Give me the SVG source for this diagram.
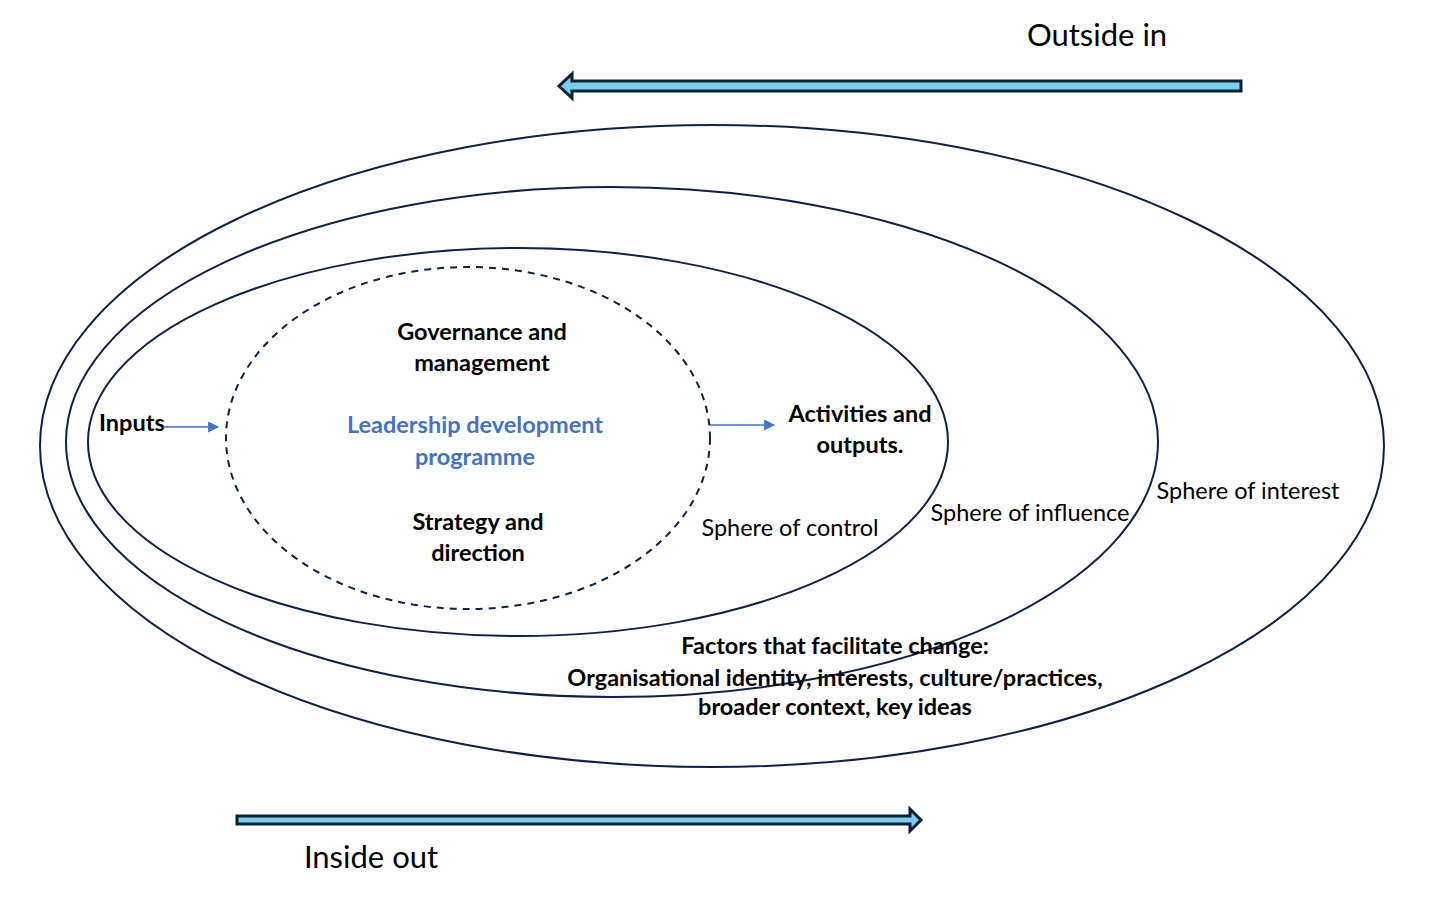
<svg xmlns="http://www.w3.org/2000/svg" width="1456" height="924" viewBox="0 0 1456 924">
<defs>
<style>
.ring{fill:none;stroke:#0E2147;stroke-width:2}
.dash{fill:none;stroke:#0E2147;stroke-width:2;stroke-dasharray:7 6}
.t{font-family:Lato,"Open Sans","Liberation Sans",sans-serif;fill:#000}
.b{font-weight:bold;font-size:23.5px}
.r{font-size:23.5px}
.big{font-size:31px}
.blue{fill:#4472C4}
.conn{stroke:#4472C4;stroke-width:1.5;fill:none}
.bigarrow{fill:#7DCDEE;stroke:#0B2233;stroke-width:3;stroke-linejoin:miter}
</style>
<marker id="ah" viewBox="0 0 10 10" refX="9" refY="5" markerWidth="12" markerHeight="11" markerUnits="userSpaceOnUse" orient="auto">
<path d="M0,0 L10,5 L0,10 z" fill="#4472C4"/>
</marker>
</defs>
<rect width="1456" height="924" fill="#fff"/>
<g id="sphere-interest"><ellipse class="ring" cx="712" cy="446" rx="672" ry="321"/></g>
<g id="sphere-influence"><ellipse class="ring" cx="612" cy="442" rx="546" ry="255"/></g>
<g id="sphere-control"><ellipse class="ring" cx="518" cy="442" rx="430" ry="194"/></g>
<g id="programme"><ellipse class="dash" cx="468" cy="438" rx="242" ry="171"/>
<text class="t b" text-anchor="middle" x="482" y="340">Governance and</text>
<text class="t b" text-anchor="middle" x="482" y="371">management</text>
<text class="t b blue" text-anchor="middle" x="475" y="433">Leadership development</text>
<text class="t b blue" text-anchor="middle" x="475" y="465">programme</text>
<text class="t b" text-anchor="middle" x="478" y="530">Strategy and</text>
<text class="t b" text-anchor="middle" x="478" y="561">direction</text>
</g>
<g id="inputs"><text class="t b" x="99" y="431">Inputs</text></g>
<g id="activities"><text class="t b" text-anchor="middle" x="860" y="422">Activities and</text>
<text class="t b" text-anchor="middle" x="860" y="453">outputs.</text></g>
<g id="labels">
<text class="t r" text-anchor="middle" x="790" y="536">Sphere of control</text>
<text class="t r" text-anchor="middle" x="1030" y="521">Sphere of influence</text>
<text class="t r" text-anchor="middle" x="1248" y="499">Sphere of interest</text>
</g>
<g id="factors">
<text class="t b" text-anchor="middle" x="835" y="654">Factors that facilitate change:</text>
<text class="t b" text-anchor="middle" x="835" y="686">Organisational identity, interests, culture/practices,</text>
<text class="t b" text-anchor="middle" x="835" y="715">broader context, key ideas</text>
</g>
<g id="connectors">
<line class="conn" x1="163" y1="427" x2="218" y2="427" marker-end="url(#ah)"/>
<line class="conn" x1="710" y1="425" x2="774" y2="425" marker-end="url(#ah)"/>
</g>
<g id="outside-in">
<polygon class="bigarrow" points="1241,81 572,81 572,74 559,86 572,98 572,91 1241,91"/>
<text class="t big" text-anchor="middle" x="1097" y="46">Outside in</text>
</g>
<g id="inside-out">
<polygon class="bigarrow" points="237,816 910,816 910,809 921,820 910,831 910,824 237,824"/>
<text class="t big" text-anchor="middle" x="371" y="868">Inside out</text>
</g>
</svg>
